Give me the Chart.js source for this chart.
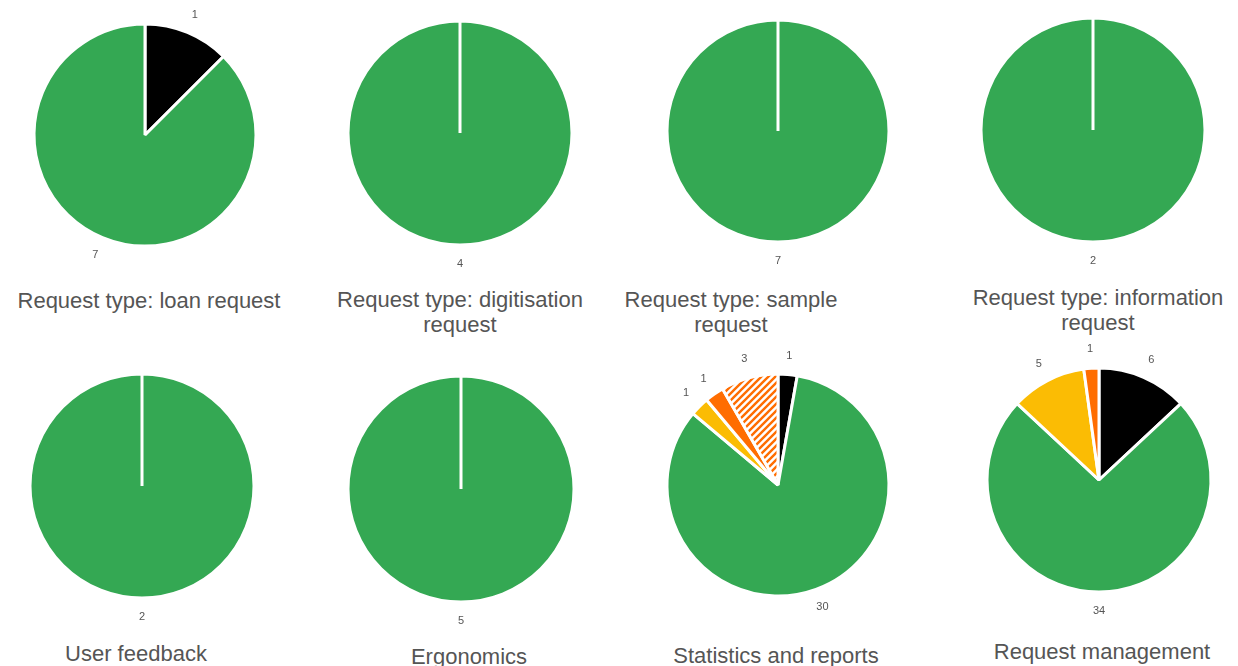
<!DOCTYPE html>
<html>
<head>
<meta charset="utf-8">
<script src="https://cdn.jsdelivr.net/npm/chart.js@4.4.1/dist/chart.umd.min.js"></script>
<style>
  html, body { margin: 0; padding: 0; background: #fff; width: 1238px; height: 666px; overflow: hidden; }
  #wrap { position: relative; width: 1238px; height: 666px; }
  canvas { position: absolute; }
  .ttl { position: absolute; width: 340px; text-align: center; font-family: "Liberation Sans", Arial, sans-serif;
         font-size: 22px; line-height: 25px; color: #555555; white-space: pre-line; }
</style>
</head>
<body>
<div id="wrap"></div>
<script>
// ---- data ----
const categories = ['Category 1', 'Category 2', 'Category 3', 'Category 4', 'Category 5'];
const titles = [
  'Request type: loan request',
  'Request type: digitisation\nrequest',
  'Request type: sample\nrequest',
  'Request type: information\nrequest',
  'User feedback',
  'Ergonomics',
  'Statistics and reports',
  'Request management'
];
const loanRequest         = [1, 7, 0, 0, 0];
const digitisationRequest = [0, 4, 0, 0, 0];
const sampleRequest       = [0, 7, 0, 0, 0];
const informationRequest  = [0, 2, 0, 0, 0];
const userFeedback        = [0, 2, 0, 0, 0];
const ergonomics          = [0, 5, 0, 0, 0];
const statisticsReports   = [1, 30, 1, 1, 3];
const requestManagement   = [6, 34, 5, 1, 0];
const seriesList = [loanRequest, digitisationRequest, sampleRequest, informationRequest,
                    userFeedback, ergonomics, statisticsReports, requestManagement];

// ---- layout (pie centre, radius, title centre) ----
const layout = [
  {cx: 145,  cy: 135, r: 111, tx: 149,  ty: 300},
  {cx: 460,  cy: 133, r: 112, tx: 460,  ty: 299},
  {cx: 778,  cy: 131, r: 111, tx: 731,  ty: 299},
  {cx: 1093, cy: 130, r: 112, tx: 1098, ty: 297},
  {cx: 142,  cy: 486, r: 112, tx: 136,  ty: 653},
  {cx: 461,  cy: 489, r: 113, tx: 469,  ty: 656},
  {cx: 778,  cy: 485, r: 111, tx: 776,  ty: 655},
  {cx: 1099, cy: 480, r: 112, tx: 1102, ty: 651}
];

// ---- styles ----
function hatch() {
  const s = 7;
  const c = document.createElement('canvas');
  c.width = s; c.height = s;
  const g = c.getContext('2d');
  g.fillStyle = '#ffffff'; g.fillRect(0, 0, s, s);
  g.strokeStyle = '#ff6d01'; g.lineWidth = 2.4;
  g.beginPath();
  g.moveTo(-2, s + 2); g.lineTo(s + 2, -2);
  g.moveTo(-2, 2); g.lineTo(2, -2);
  g.moveTo(s - 2, s + 2); g.lineTo(s + 2, s - 2);
  g.stroke();
  return g.createPattern(c, 'repeat');
}
const hatchPattern = hatch();
const colors = ['#000000', '#34a853', '#fbbc04', '#ff6d01', hatchPattern];

const outsideLabels = {
  id: 'outsideLabels',
  afterDatasetsDraw(chart) {
    const ctx = chart.ctx;
    const meta = chart.getDatasetMeta(0);
    const data = chart.data.datasets[0].data;
    ctx.save();
    ctx.font = '11px "Liberation Sans", Arial, sans-serif';
    ctx.fillStyle = '#555555';
    ctx.textAlign = 'center';
    ctx.textBaseline = 'middle';
    meta.data.forEach((arc, i) => {
      if (!data[i]) return;
      const p = arc.getProps(['x', 'y', 'startAngle', 'endAngle', 'outerRadius'], true);
      const mid = (p.startAngle + p.endAngle) / 2;
      const rr = p.outerRadius + 19;
      ctx.fillText(String(data[i]), p.x + Math.cos(mid) * rr, p.y + Math.sin(mid) * rr);
    });
    ctx.restore();
  }
};

const wrap = document.getElementById('wrap');
seriesList.forEach((values, k) => {
  const L = layout[k];
  const cv = document.createElement('canvas');
  cv.width = 300; cv.height = 300;
  cv.style.left = (L.cx - 150) + 'px';
  cv.style.top = (L.cy - 150) + 'px';
  wrap.appendChild(cv);

  new Chart(cv, {
    type: 'pie',
    data: {
      labels: categories,
      datasets: [{
        data: values,
        backgroundColor: colors,
        borderColor: '#ffffff',
        borderWidth: 3
      }]
    },
    options: {
      responsive: false,
      animation: false,
      events: [],
      radius: L.r,
      layout: { padding: 0 },
      plugins: { legend: { display: false }, tooltip: { enabled: false }, title: { display: false } }
    },
    plugins: [outsideLabels]
  });

  const t = document.createElement('div');
  t.className = 'ttl';
  t.textContent = titles[k];
  t.style.left = (L.tx - 170) + 'px';
  t.style.top = (L.ty - 12.5) + 'px';
  wrap.appendChild(t);
});
</script>
</body>
</html>
